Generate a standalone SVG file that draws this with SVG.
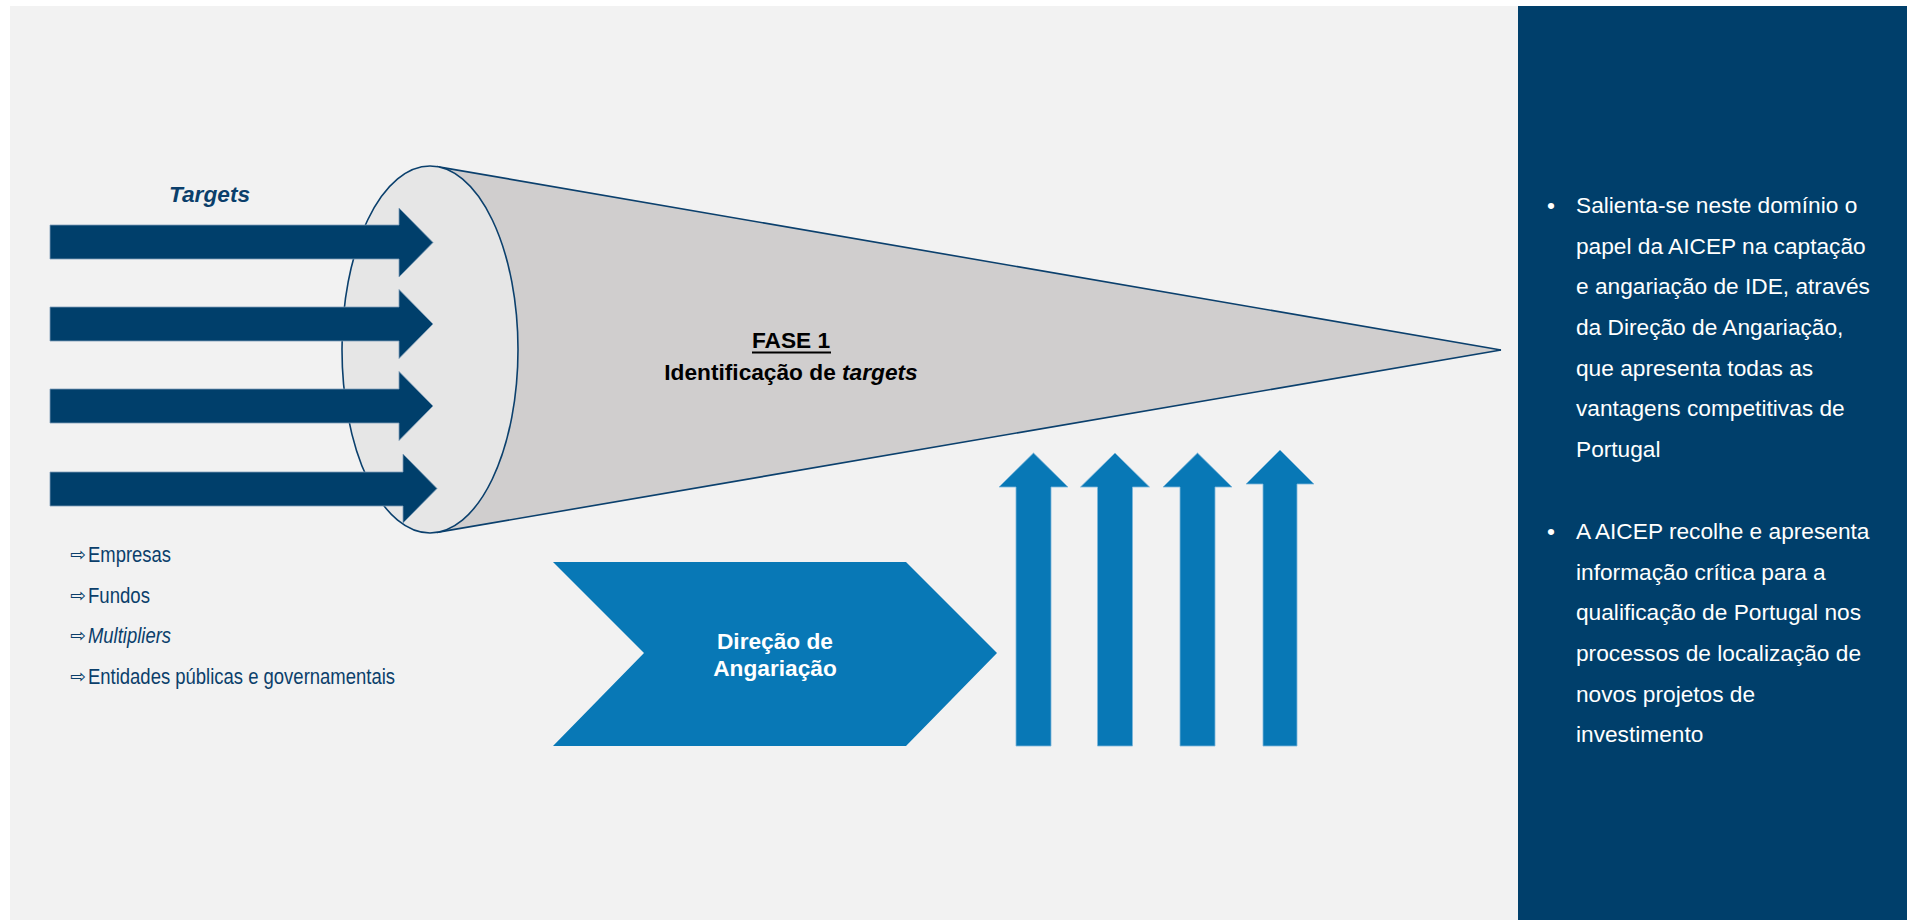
<svg xmlns="http://www.w3.org/2000/svg" width="1910" height="920" viewBox="0 0 1910 920">
<style>
.txt{font-family:"Liberation Sans",Arial,sans-serif;}
.navy{fill:#003F6B;}
.blue{fill:#0878B6;}
.la{fill:#003F6B;stroke:#7E9DB8;stroke-width:0.8;}
.ua{fill:#0878B6;stroke:#7DB6DA;stroke-width:0.8;}
.edge{stroke:#0B406D;stroke-width:1.6;fill:none;}
.list{font-family:"Liberation Sans",Arial,sans-serif;font-size:22.7px;fill:#0B3F6B;}
.sym{font-family:"DejaVu Sans",sans-serif;font-size:19px;fill:#0B3F6B;}
.panel{font-family:"Liberation Sans",Arial,sans-serif;font-size:22.7px;fill:#FFFFFF;}
</style>
<rect x="0" y="0" width="1910" height="920" fill="#FFFFFF"/>
<rect id="background" x="10" y="6" width="1897" height="914" fill="#F2F2F2"/>
<rect id="side-panel" x="1518" y="6" width="389" height="914" fill="#003F6B"/>

<g id="cone">
  <polygon points="437,166.6 1501,350 437,532.4 430,349.5" fill="#D0CECE"/>
  <line class="edge" x1="437" y1="166.6" x2="1501" y2="350"/>
  <line class="edge" x1="437" y1="532.4" x2="1501" y2="350"/>
  <ellipse cx="430" cy="349.5" rx="88" ry="183.5" fill="#E6E6E6" stroke="#0B406D" stroke-width="1.6"/>
  <text class="txt" x="791" y="348" font-size="22.7" font-weight="bold" text-anchor="middle" fill="#000000">FASE 1</text>
  <line x1="752" y1="352.5" x2="831" y2="352.5" stroke="#000000" stroke-width="1.8"/>
  <text class="txt" x="791" y="380" font-size="22.7" font-weight="bold" text-anchor="middle" fill="#000000">Identificação de <tspan font-style="italic">targets</tspan></text>
</g>

<g id="targets">
  <text class="txt" x="209.5" y="202" font-size="22.7" font-weight="bold" font-style="italic" text-anchor="middle" fill="#0B3F6B">Targets</text>
  <polygon class="la" points="50,225 399,225 399,208 433,242.5 399,277 399,259 50,259"/>
  <polygon class="la" points="50,307 399,307 399,289.5 433,324 399,358.5 399,341 50,341"/>
  <polygon class="la" points="50,389 399,389 399,371.5 433,406 399,440.5 399,423 50,423"/>
  <polygon class="la" points="50,472 403,472 403,454 437,488.5 403,523 403,506 50,506"/>
</g>

<g id="target-list">
  <text class="sym" x="70" y="561" textLength="16" lengthAdjust="spacingAndGlyphs">⇨</text>
  <text class="list" x="88" y="562" textLength="83" lengthAdjust="spacingAndGlyphs">Empresas</text>
  <text class="sym" x="70" y="602" textLength="16" lengthAdjust="spacingAndGlyphs">⇨</text>
  <text class="list" x="88" y="603" textLength="62" lengthAdjust="spacingAndGlyphs">Fundos</text>
  <text class="sym" x="70" y="642" textLength="16" lengthAdjust="spacingAndGlyphs">⇨</text>
  <text class="list" x="88" y="643" font-style="italic" textLength="83" lengthAdjust="spacingAndGlyphs">Multipliers</text>
  <text class="sym" x="70" y="683" textLength="16" lengthAdjust="spacingAndGlyphs">⇨</text>
  <text class="list" x="88" y="684" textLength="307" lengthAdjust="spacingAndGlyphs">Entidades públicas e governamentais</text>
</g>

<g id="direcao-angariacao">
  <polygon class="blue" points="553,562 906,562 997,653 906,746 553,746 644,653"/>
  <text class="txt" x="775" y="649" font-size="22.7" font-weight="bold" text-anchor="middle" fill="#FFFFFF">Direção de</text>
  <text class="txt" x="775" y="676" font-size="22.7" font-weight="bold" text-anchor="middle" fill="#FFFFFF">Angariação</text>
</g>

<g id="up-arrows">
  <polygon class="ua" points="1016,746 1016,487 999,487 1033.5,453 1068,487 1051,487 1051,746"/>
  <polygon class="ua" points="1097.5,746 1097.5,487 1080.5,487 1115,453 1149.5,487 1132.5,487 1132.5,746"/>
  <polygon class="ua" points="1180,746 1180,487 1163,487 1197.5,453 1232,487 1215,487 1215,746"/>
  <polygon class="ua" points="1263,746 1263,484 1246,484 1280,450 1314,484 1297,484 1297,746"/>
</g>

<g id="panel-text">
  <text class="panel" x="1547" y="213" font-size="20">•</text>
  <text class="panel" x="1576" y="213">Salienta-se neste domínio o</text>
  <text class="panel" x="1576" y="254">papel da AICEP na captação</text>
  <text class="panel" x="1576" y="294">e angariação de IDE, através</text>
  <text class="panel" x="1576" y="335">da Direção de Angariação,</text>
  <text class="panel" x="1576" y="376">que apresenta todas as</text>
  <text class="panel" x="1576" y="416">vantagens competitivas de</text>
  <text class="panel" x="1576" y="457">Portugal</text>
  <text class="panel" x="1547" y="539" font-size="20">•</text>
  <text class="panel" x="1576" y="539">A AICEP recolhe e apresenta</text>
  <text class="panel" x="1576" y="580">informação crítica para a</text>
  <text class="panel" x="1576" y="620">qualificação de Portugal nos</text>
  <text class="panel" x="1576" y="661">processos de localização de</text>
  <text class="panel" x="1576" y="702">novos projetos de</text>
  <text class="panel" x="1576" y="742">investimento</text>
</g>
</svg>
